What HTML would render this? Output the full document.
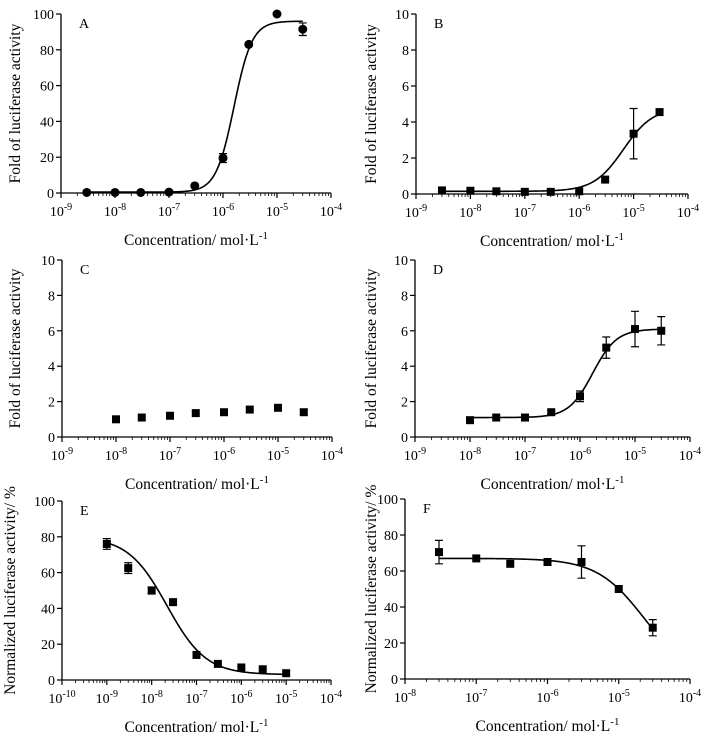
<!DOCTYPE html>
<html><head><meta charset="utf-8"><style>
html,body{margin:0;padding:0;background:#fff;}
svg{display:block;font-family:"Liberation Serif",serif;}
</style></head><body>
<svg id="fig" width="712" height="733" viewBox="0 0 712 733" xmlns="http://www.w3.org/2000/svg"></svg>
<script>
// Panel data
const aX=[3e-9,1e-8,3e-8,1e-7,3e-7,1e-6,3e-6,1e-5,3e-5];
const aY=[0.3,0.3,0.3,0.5,4,19.5,83,100,91.5];
const aE=[0,0,0,0,0,2.5,0,0,3.5];
const bX=[3e-9,1e-8,3e-8,1e-7,3e-7,1e-6,3e-6,1e-5,3e-5];
const bY=[0.2,0.18,0.15,0.12,0.12,0.15,0.8,3.35,4.55];
const bE=[0,0,0,0,0,0,0.12,1.4,0.15];
const cX=[1e-8,3e-8,1e-7,3e-7,1e-6,3e-6,1e-5,3e-5];
const cY=[1.0,1.1,1.2,1.35,1.4,1.55,1.65,1.4];
const cE=[0,0,0,0,0,0,0,0.15];
const dX=[1e-8,3e-8,1e-7,3e-7,1e-6,3e-6,1e-5,3e-5];
const dY=[0.95,1.1,1.1,1.4,2.3,5.05,6.1,6.0];
const dE=[0,0,0,0.1,0.3,0.6,1.0,0.8];
const eX=[1e-9,3e-9,1e-8,3e-8,1e-7,3e-7,1e-6,3e-6,1e-5];
const eY=[76,62.5,50,43.5,14,9,7,6,3.8];
const eE=[3,3,2,1.5,1.5,0,0,0,0];
const fX=[3e-8,1e-7,3e-7,1e-6,3e-6,1e-5,3e-5];
const fY=[70.5,67,64,65,65,50,28.5];
const fE=[6.5,0,0,0,9,0,4.5];

const NS="http://www.w3.org/2000/svg";
const svg=document.getElementById('fig');
function mk(tag,attrs,parent){const e=document.createElementNS(NS,tag);for(const k in attrs)e.setAttribute(k,attrs[k]);(parent||svg).appendChild(e);return e;}

function panel(cfg){
  const g=mk('g',{});
  
  
  const xs=v=>cfg.x0+(Math.log10(v)-cfg.d0)/(cfg.d1-cfg.d0)*(cfg.x1-cfg.x0);
  const ys=v=>cfg.y0-(v/cfg.ymax)*(cfg.y0-cfg.y1);
  const ax=mk('line',{x1:cfg.x0,y1:cfg.y0,x2:cfg.x1,y2:cfg.y0,stroke:'#000','stroke-width':1.3},g);
  
  
  const ay=mk('line',{x1:cfg.x0,y1:cfg.y0,x2:cfg.x0,y2:cfg.y1,stroke:'#000','stroke-width':1.3},g);
  
  
  for(let d=cfg.d0;d<=cfg.d1;d++){
    const px=xs(Math.pow(10,d));
    mk('line',{x1:px,y1:cfg.y0,x2:px,y2:cfg.y0+5,stroke:'#000','stroke-width':1.2},g);
    if(d<cfg.d1){for(let m=2;m<=9;m++){const q=xs(m*Math.pow(10,d));mk('line',{x1:q,y1:cfg.y0,x2:q,y2:cfg.y0+3,stroke:'#000','stroke-width':0.8},g);}}
    const t=mk('text',{x:px,y:cfg.y0+23,'font-size':14,'text-anchor':'middle'},g);
    
    
    t.textContent='10';
    const s=mk('tspan',{dy:-6,'font-size':10},t);s.textContent=String(d);
  }
  for(let i=0;i<=5;i++){
    const v=cfg.ymax*i/5, py=ys(v);
    mk('line',{x1:cfg.x0-5,y1:py,x2:cfg.x0,y2:py,stroke:'#000','stroke-width':1.2},g);
    const t=mk('text',{x:cfg.x0-7,y:py+5,'font-size':14,'text-anchor':'end'},g);
    
    
    t.textContent=String(v);
  }
  const lb=mk('text',{x:cfg.x0+18,y:cfg.y1+14,'font-size':14},g);
  
  
  lb.textContent=cfg.label;
  const xt=mk('text',{x:(cfg.x0+cfg.x1)/2,y:cfg.y0+52,'font-size':15.5,'text-anchor':'middle'},g);
  
  
  xt.textContent='Concentration/ mol·L';
  const sp=mk('tspan',{dy:-6,'font-size':11},xt);sp.textContent='-1';
  const ymid=(cfg.y0+cfg.y1)/2;
  const yt=mk('text',{x:cfg.ytx,y:ymid,'font-size':15.5,'text-anchor':'middle',transform:'rotate(-90 '+cfg.ytx+' '+ymid+')'},g);
  
  
  yt.textContent=cfg.ytitle;
  if(cfg.fit){
    let d='';const lo=Math.log10(cfg.X[0]),hi=Math.log10(cfg.X[cfg.X.length-1]);
    for(let i=0;i<=200;i++){const lx=lo+(hi-lo)*i/200;const x=Math.pow(10,lx);const y=cfg.fit(x);d+=(i?'L':'M')+xs(x).toFixed(2)+' '+ys(y).toFixed(2);}
    const c=mk('path',{d:d,fill:'none',stroke:'#000','stroke-width':1.6},g);
    
    
  }
  cfg.X.forEach((x,i)=>{
    const px=xs(x),py=ys(cfg.Y[i]),e=cfg.E[i];
    if(e>0){
      const eb=mk('path',{d:'M'+px+' '+ys(cfg.Y[i]+e)+'V'+ys(cfg.Y[i]-e)+'M'+(px-4)+' '+ys(cfg.Y[i]+e)+'H'+(px+4)+'M'+(px-4)+' '+ys(cfg.Y[i]-e)+'H'+(px+4),stroke:'#000','stroke-width':1.2,fill:'none'},g);
      
      
    }
    let m;
    if(cfg.circle) m=mk('circle',{cx:px,cy:py,r:4.5,fill:'#000'},g);
    else m=mk('rect',{x:px-4,y:py-4,width:8,height:8,fill:'#000'},g);
    
    
  });
}
const up=(b,t,ec,h)=>x=>b+(t-b)/(1+Math.pow(ec/x,h));
const yF='Fold of  luciferase activity', yN='Normalized luciferase activity/ %';
panel({label:'A',X:aX,Y:aY,E:aE,circle:true,x0:61,x1:331,d0:-9,d1:-4,y0:193,y1:14,ymax:100,ytx:20,ytitle:yF,fit:up(0.5,96,1.6e-6,2.6)});
panel({label:'B',X:bX,Y:bY,E:bE,x0:416,x1:688,d0:-9,d1:-4,y0:194,y1:14,ymax:10,ytx:376,ytitle:yF,fit:up(0.15,4.8,6.5e-6,1.6)});
panel({label:'C',X:cX,Y:cY,E:cE,x0:62,x1:332,d0:-9,d1:-4,y0:437,y1:260,ymax:10,ytx:20,ytitle:yF});
panel({label:'D',X:dX,Y:dY,E:dE,x0:415,x1:690,d0:-9,d1:-4,y0:437,y1:260,ymax:10,ytx:376,ytitle:yF,fit:up(1.1,6.1,1.7e-6,2.0)});
panel({label:'E',X:eX,Y:eY,E:eE,x0:62,x1:331,d0:-10,d1:-4,y0:680,y1:501,ymax:100,ytx:15,ytitle:yN,fit:up(80,3,2.2e-8,1.0)});
panel({label:'F',X:fX,Y:fY,E:fE,x0:405,x1:690,d0:-8,d1:-4,y0:679,y1:499,ymax:100,ytx:376,ytitle:yN,fit:up(67,0,2.3e-5,1.3)});
</script>
</body></html>
